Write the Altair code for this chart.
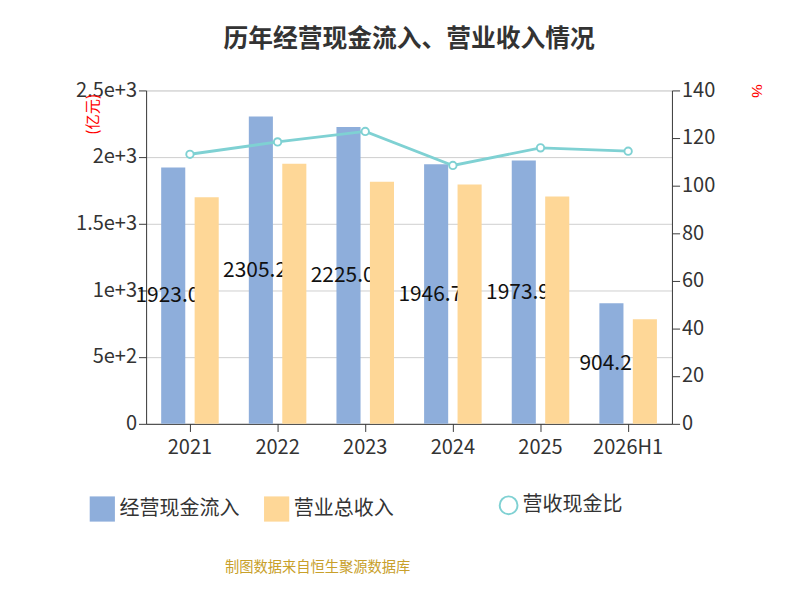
import altair as alt
import pandas as pd

years = ["2021", "2022", "2023", "2024", "2025", "2026H1"]
cash_in = [1923.04, 2305.26, 2225.04, 1946.74, 1973.99, 904.21]
revenue = [1700, 1950, 1815, 1795, 1705, 785]
ratio = [113.2, 118.4, 122.8, 108.5, 115.9, 114.5]

font = "Noto Sans CJK SC"
bars = pd.DataFrame({
    "year": years * 2,
    "series": ["经营现金流入"] * 6 + ["营业总收入"] * 6,
    "value": cash_in + revenue,
})
lab = pd.DataFrame({"year": years, "series": ["经营现金流入"] * 6, "value": cash_in,
                    "half": [v / 2 for v in cash_in], "txt": [f"{v:.2f}" for v in cash_in]})
line = pd.DataFrame({"year": years, "ratio": ratio, "s": ["营收现金比"] * 6})

x = alt.X("year:N", sort=years, title=None, scale=alt.Scale(paddingInner=0.0, paddingOuter=0.0),
          axis=alt.Axis(labelAngle=0, labelFontSize=21, labelColor="#333", domainColor="#333",
                        tickColor="#333", tickSize=8, labelPadding=6, labelFont=font))
xo = alt.XOffset("series:N", sort=["经营现金流入", "营业总收入"],
                 scale=alt.Scale(paddingInner=0.28, paddingOuter=0.45))
yl = alt.Scale(domain=[0, 2500])
yaxis = alt.Axis(values=[0, 500, 1000, 1500, 2000, 2500], format=",", labelFontSize=21, labelFont=font,
                 labelColor="#333", domainColor="#333", tickColor="#333", tickSize=8, gridColor="#ccc")
color = alt.Color("series:N", sort=["经营现金流入", "营业总收入"],
                  scale=alt.Scale(domain=["经营现金流入", "营业总收入"], range=["#8eaedb", "#fed797"]),
                  legend=alt.Legend(title=None, orient="none", legendX=-60, legendY=425, direction="horizontal",
                                    symbolType="square", symbolSize=700,
                                    labelFontSize=21, labelFont=font, columnPadding=25, labelColor="#333"))

base = alt.Chart(bars).encode(x=x, xOffset=xo)
blue = base.transform_filter("datum.series == '经营现金流入'").mark_bar().encode(
    y=alt.Y("value:Q", scale=yl, title=None, axis=yaxis), color=color)
text = alt.Chart(lab).mark_text(fontSize=22, color="#111", font=font).encode(
    x=x, xOffset=xo, y=alt.Y("half:Q", scale=yl, axis=yaxis, title=None), text="txt:N")
orange = base.transform_filter("datum.series == '营业总收入'").mark_bar().encode(
    y=alt.Y("value:Q", scale=yl, axis=yaxis, title=None), color=color)
notes = pd.DataFrame({"t": ["(亿元)", "制图数据来自恒生聚源数据库"], "c": ["red", "#c8a02a"]})
unit = alt.Chart(notes).transform_filter("datum.c == 'red'").mark_text(
    color="red", fontSize=16, angle=270, font=font).encode(
    x=alt.value(-55), y=alt.value(25), text="t:N")
foot = alt.Chart(notes).transform_filter("datum.c != 'red'").mark_text(
    color="#c8a02a", fontSize=15, font=font).encode(
    x=alt.value(180), y=alt.value(500), text="t:N")

lines = alt.Chart(line).encode(
    x=x,
    y=alt.Y("ratio:Q", scale=alt.Scale(domain=[0, 140]), title="%",
            axis=alt.Axis(orient="right", values=list(range(0, 141, 20)), grid=False, labelFontSize=21,
                          labelFont=font, labelColor="#333", domainColor="#333", tickColor="#333", tickSize=8,
                          titleColor="red", titleAngle=90, titleFontSize=16, titleFontWeight="normal",
                          titleX=80, titleY=0, titleAlign="center")),
    stroke=alt.Stroke("s:N", scale=alt.Scale(range=["#7fd1d3"]),
                      legend=alt.Legend(title=None, orient="none", legendX=370, legendY=425,
                                        symbolType="circle", symbolSize=350,
                                        symbolFillColor="white", symbolStrokeWidth=2,
                                        labelFontSize=21, labelFont=font, labelColor="#333")),
)
ln = lines.mark_line(strokeWidth=3)
pts = lines.mark_point(filled=True, fill="white", size=60, strokeWidth=2, opacity=1)

left = alt.layer(blue, text, orange, unit, foot)
chart = alt.layer(left, ln + pts).resolve_scale(y="independent", color="independent").properties(
    width=552, height=350,
    title=alt.Title("历年经营现金流入、营业收入情况", fontSize=26, font=font, color="#333", offset=30,
                    anchor="middle"),
).configure_view(stroke=None).configure(
    padding={"left": 70, "top": 5, "right": 30, "bottom": 5})

chart.save("out.html", embed_options={"renderer": "svg", "actions": False})
